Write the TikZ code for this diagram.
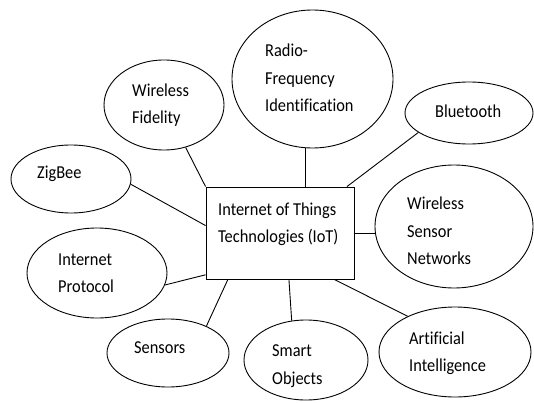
\documentclass[tikz,border=0pt]{standalone}
\usepackage{fontspec}
\setmainfont[FakeStretch=0.9,Ligatures=NoCommon]{Carlito}
\usetikzlibrary{calc,shapes.geometric}
\begin{document}
\begin{tikzpicture}[x=1pt,y=-1pt,
  bubble/.style={draw,ellipse,line width=0.9pt,inner sep=0pt},
  hub/.style={draw,rectangle,line width=0.9pt,inner sep=0pt},
  caption/.style={anchor=west,align=left,inner sep=0pt,
    font={\fontsize{18.2}{27.5}\selectfont}},
  link/.style={line width=0.9pt}]
\useasboundingbox[fill=white] (0,0) rectangle (534,403);

% central box
\node[hub,minimum width=148pt,minimum height=92pt] (iot) at (280,233) {};
\node[caption] (iot-t) at (218,224) {Internet of Things\\Technologies (IoT)};

% surrounding technologies
\node[bubble,minimum width=120pt,minimum height=90pt]  (wf)   at (164,105) {};
\node[bubble,minimum width=120pt,minimum height=68pt]  (zb)   at (71,179)  {};
\node[bubble,minimum width=161pt,minimum height=138pt] (rfid) at (312.5,79) {};
\node[bubble,minimum width=128pt,minimum height=62pt]  (bt)   at (469,113) {};
\node[bubble,minimum width=158pt,minimum height=123pt] (wsn)  at (454,226.5) {};
\node[bubble,minimum width=140pt,minimum height=90pt]  (ip)   at (97,273)  {};
\node[bubble,minimum width=122pt,minimum height=68pt]  (sen)  at (168,353) {};
\node[bubble,minimum width=124pt,minimum height=80pt]  (so)   at (306,360) {};
\node[bubble,minimum width=152pt,minimum height=90pt]  (ai)   at (455,352) {};

\node[caption] (wf-t)   at (132,105) {Wireless\\Fidelity};
\node[caption] (zb-t)   at (37,174)  {ZigBee};
\node[caption] (rfid-t) at (265,78)  {Radio-\\Frequency\\Identification};
\node[caption] (bt-t)   at (435,111) {Bluetooth};
\node[caption] (wsn-t)  at (407,231) {Wireless\\Sensor\\Networks};
\node[caption] (ip-t)   at (58,273)  {Internet\\Protocol};
\node[caption] (sen-t)  at (134,348) {Sensors};
\node[caption] (so-t)   at (272,366) {Smart\\Objects};
\node[caption] (ai-t)   at (409,353) {Artificial\\Intelligence};

% connectors
\coordinate (rf) at ($(iot.north west)!0.67!(iot.north east)$);
\draw[link] (wf) -- (iot.north west);
\draw[link] (zb.-5) -- ($(iot.north west)!0.42!(iot.south west)$);
\draw[link] (rf) -- (rf |- rfid.south);
\draw[link] (bt.201) -- ($(iot.north west)!0.95!(iot.north east)$);
\draw[link] (iot.east) -- (wsn.west |- iot.east);
\draw[link] (ip.-10) -- ($(iot.north west)!0.95!(iot.south west)$);
\draw[link] (sen.35) -- ($(iot.south west)!0.15!(iot.south east)$);
\draw[link] (so.110) -- ($(iot.south west)!0.56!(iot.south east)$);
\draw[link] (ai.143) -- ($(iot.south west)!0.865!(iot.south east)$);
\end{tikzpicture}
\end{document}
